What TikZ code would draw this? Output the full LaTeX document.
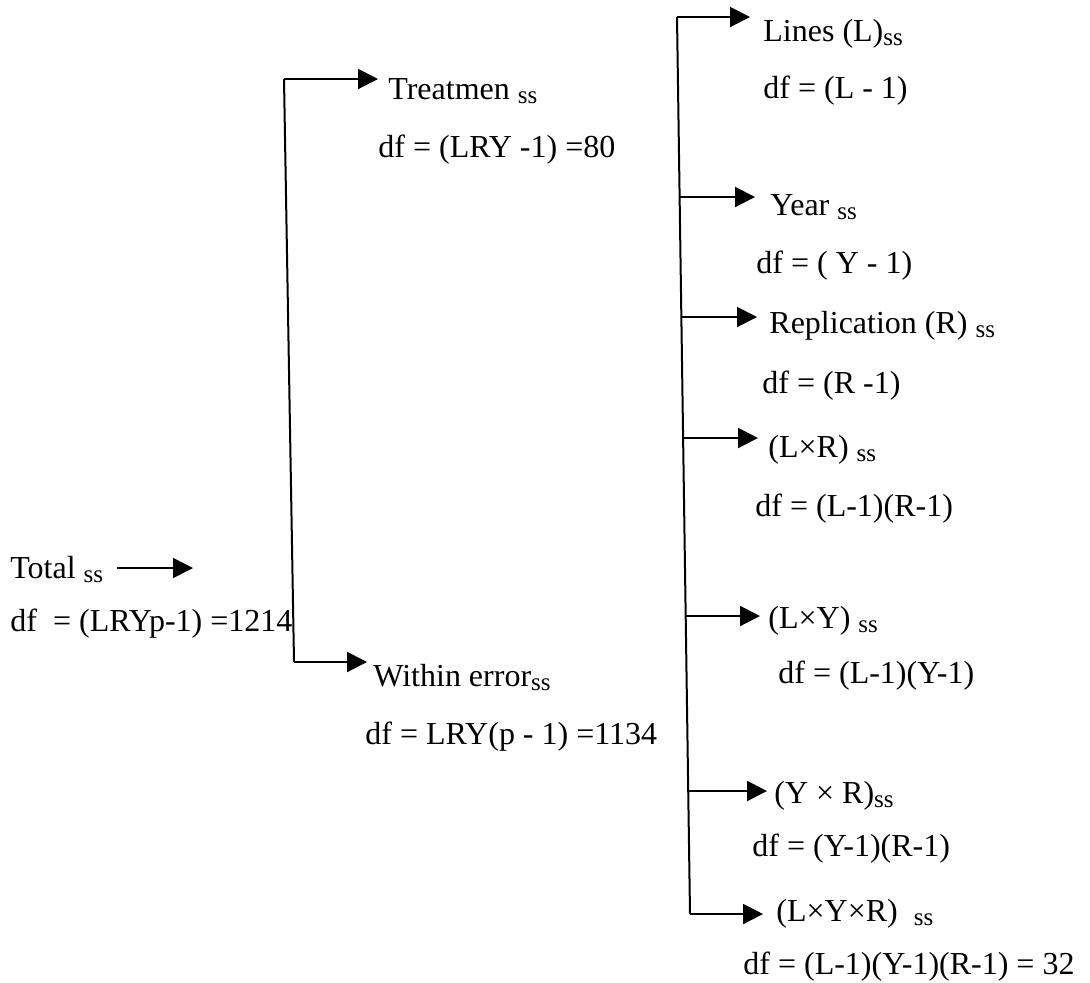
\documentclass[tikz,border=0pt]{standalone}
\usepackage{fontspec}
\setmainfont{Liberation Serif}
\usetikzlibrary{arrows.meta}
\newcommand{\subss}{\raisebox{-2.2pt}{\fontsize{12.5}{14}\selectfont ss}}
\begin{document}
\begin{tikzpicture}[x=0.5pt,y=-0.5pt,
  lbl/.style={anchor=base west,inner sep=0pt,font=\fontsize{16}{19}\selectfont},
  conn/.style={line width=1pt},
  arr/.style={line width=1pt,-{Triangle[length=10pt,width=10pt]}}]
\useasboundingbox (0,0) rectangle (1090,982);
\fill[white] (0,0) rectangle (1090,982);

% ---- left part ----
\node[lbl] (tot)   at (10,578) {Total \subss};
\node[lbl] (totdf) at (10,631) {df \ = (LRYp-1) =1214};
\coordinate (totA) at (117,568);
\coordinate (totB) at (193,568);
\draw[arr,line width=0.8pt] (totA) -- (totB);

\coordinate (lt) at (284,79);
\coordinate (lb) at (294,662);
\coordinate (trtip) at (378,79);
\coordinate (wtip) at (367,662);
\draw[conn] (lt) -- (lb);
\draw[arr] (lt) -- (trtip);
\draw[arr] (lb) -- (wtip);

\node[lbl] (trt)   at (388,99)  {Treatmen \subss};
\node[lbl] (trtdf) at (378,157) {df = (LRY -1) =80};
\node[lbl] (win)   at (373,686) {Within error\subss};
\node[lbl] (windf) at (365,744) {df = LRY(p - 1) =1134};

% ---- right part ----
\coordinate (rt) at (677,17);
\coordinate (rb) at (690,914);
\draw[conn] (rt) -- (rb);

\coordinate (s2) at (680,197);
\coordinate (s3) at (681,317);
\coordinate (s4) at (683,438);
\coordinate (s5) at (686,616);
\coordinate (s6) at (688,791);

\coordinate (t1) at (750,17);
\coordinate (t2) at (755,197);
\coordinate (t3) at (757,317);
\coordinate (t4) at (758,438);
\coordinate (t5) at (760,616);
\coordinate (t6) at (767,791);
\coordinate (t7) at (763,914);

\draw[arr] (rt) -- (t1);
\draw[arr] (s2) -- (t2);
\draw[arr] (s3) -- (t3);
\draw[arr] (s4) -- (t4);
\draw[arr] (s5) -- (t5);
\draw[arr] (s6) -- (t6);
\draw[arr] (rb) -- (t7);

\node[lbl] (lin)   at (763,41)  {Lines (L)\subss};
\node[lbl] (lindf) at (763,98)  {df = (L - 1)};
\node[lbl] (yr)    at (770,215) {Year \subss};
\node[lbl] (yrdf)  at (756,273) {df = ( Y - 1)};
\node[lbl] (rep)   at (769,333) {Replication (R) \subss};
\node[lbl] (repdf) at (762,393) {df = (R -1)};
\node[lbl] (lr)    at (768,457) {(L×R) \subss};
\node[lbl] (lrdf)  at (755,516) {df = (L-1)(R-1)};
\node[lbl] (ly)    at (768,628) {(L×Y) \subss};
\node[lbl] (lydf)  at (778,683) {df = (L-1)(Y-1)};
\node[lbl] (yrx)   at (774,803) {(Y × R)\subss};
\node[lbl] (yrxdf) at (752,856) {df = (Y-1)(R-1)};
\node[lbl] (lyr)   at (776,921) {(L×Y×R) \ \subss};
\node[lbl] (lyrdf) at (743,974) {df = (L-1)(Y-1)(R-1) = 32};
\end{tikzpicture}
\end{document}
